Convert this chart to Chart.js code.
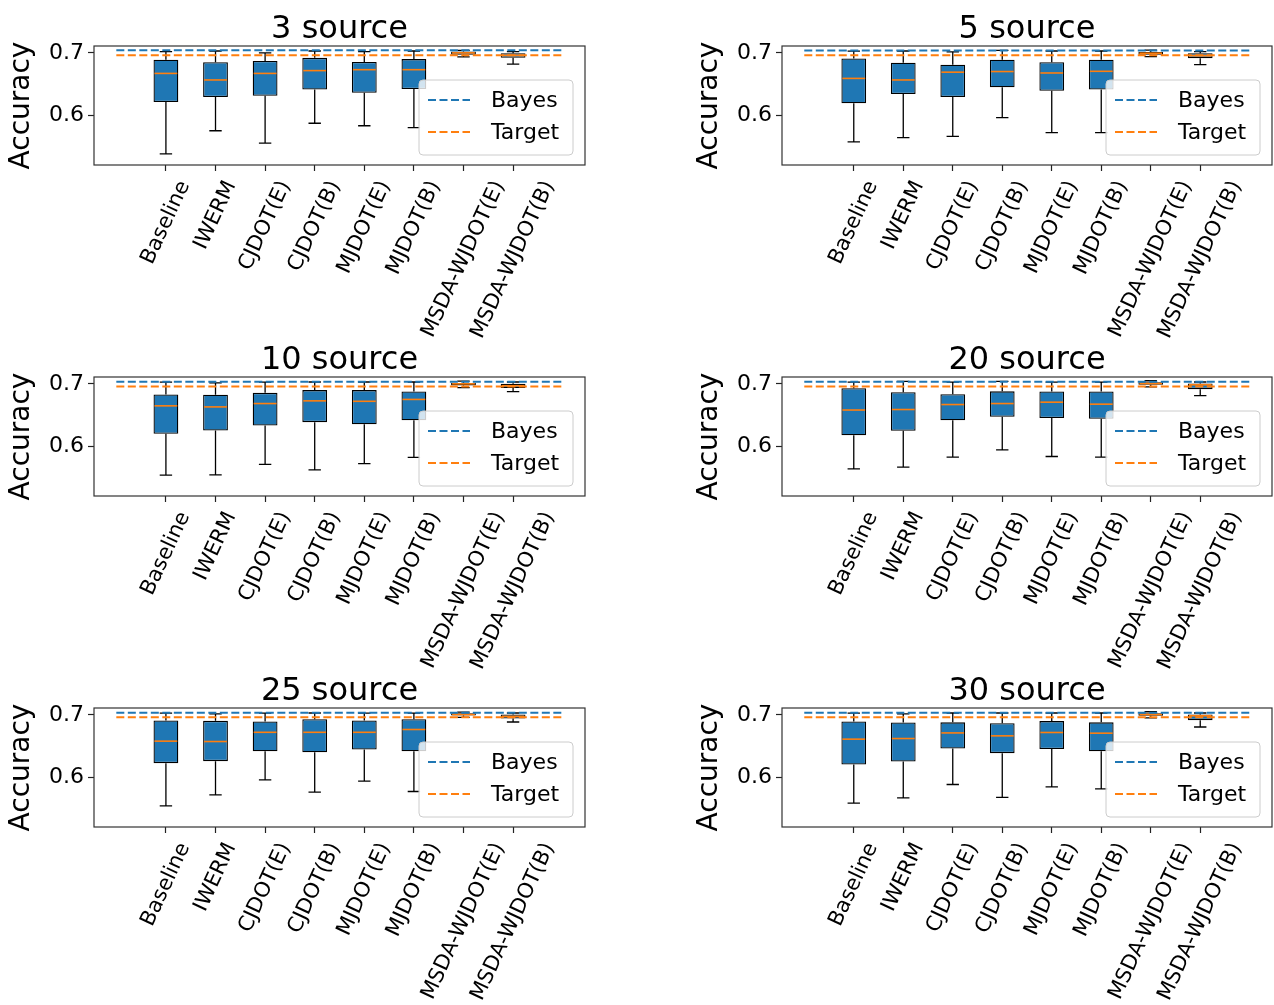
<!DOCTYPE html>
<html>
<head>
<meta charset="utf-8">
<script src="https://cdn.jsdelivr.net/npm/chart.js@4.4.1/dist/chart.umd.min.js"></script>
<style>
  html, body { margin: 0; padding: 0; background: #fff; width: 1274px; height: 1005px; overflow: hidden; position: relative; }
  canvas { position: absolute; }
</style>
</head>
<body>
<script>
// --- data ---
const methods = ['Baseline', 'IWERM', 'CJDOT(E)', 'CJDOT(B)', 'MJDOT(E)', 'MJDOT(B)', 'MSDA-WJDOT(E)', 'MSDA-WJDOT(B)'];
const sources = [3, 5, 10, 20, 25, 30];
const bayesAcc = [0.7040, 0.7038, 0.7034, 0.7034, 0.7033, 0.7033];
const targetAcc = [0.6960, 0.6960, 0.6958, 0.6958, 0.6962, 0.6962];
const yTicks = [0.6, 0.7];

// one row per panel, one value per method
const whiskerLow = [
  [0.538, 0.575, 0.555, 0.587, 0.583, 0.580, 0.6935, 0.682],
  [0.557, 0.564, 0.566, 0.596, 0.572, 0.572, 0.694, 0.681],
  [0.5535, 0.554, 0.5706, 0.562, 0.572, 0.582, 0.694, 0.6875],
  [0.5636, 0.5663, 0.5824, 0.594, 0.5834, 0.5824, 0.695, 0.681],
  [0.554, 0.5717, 0.5957, 0.576, 0.5936, 0.577, 0.696, 0.6885],
  [0.5583, 0.5668, 0.5882, 0.5674, 0.5845, 0.5813, 0.695, 0.6805]
];
const quart1 = [
  [0.621, 0.629, 0.631, 0.641, 0.636, 0.642, 0.697, 0.692],
  [0.619, 0.634, 0.629, 0.6446, 0.639, 0.641, 0.697, 0.6915],
  [0.620, 0.625, 0.633, 0.6385, 0.635, 0.6417, 0.6975, 0.6935],
  [0.6176, 0.6246, 0.6417, 0.647, 0.645, 0.6438, 0.6985, 0.6915],
  [0.6225, 0.6257, 0.6417, 0.640, 0.6444, 0.6417, 0.699, 0.694],
  [0.6203, 0.625, 0.646, 0.6385, 0.645, 0.6417, 0.6985, 0.6915]
];
const medians = [
  [0.667, 0.6565, 0.667, 0.6715, 0.673, 0.673, 0.700, 0.696],
  [0.659, 0.6565, 0.669, 0.670, 0.6677, 0.6704, 0.6995, 0.6955],
  [0.6647, 0.663, 0.6684, 0.6727, 0.672, 0.675, 0.700, 0.697],
  [0.658, 0.6588, 0.6668, 0.6684, 0.6706, 0.6674, 0.7005, 0.6985],
  [0.6578, 0.6572, 0.672, 0.672, 0.672, 0.6765, 0.7005, 0.6975],
  [0.661, 0.662, 0.671, 0.6663, 0.6717, 0.6706, 0.7005, 0.6985]
];
const quart3 = [
  [0.689, 0.685, 0.687, 0.692, 0.6855, 0.690, 0.702, 0.6995],
  [0.691, 0.684, 0.681, 0.689, 0.685, 0.689, 0.7015, 0.6995],
  [0.683, 0.6824, 0.6856, 0.690, 0.690, 0.6877, 0.7015, 0.700],
  [0.693, 0.6866, 0.6834, 0.688, 0.6877, 0.6877, 0.7025, 0.7005],
  [0.691, 0.6904, 0.6893, 0.693, 0.691, 0.693, 0.7025, 0.7005],
  [0.6893, 0.6877, 0.688, 0.6866, 0.690, 0.688, 0.7025, 0.7005]
];
const whiskerHigh = [
  [0.702, 0.703, 0.700, 0.703, 0.702, 0.703, 0.704, 0.702],
  [0.7027, 0.703, 0.7016, 0.704, 0.703, 0.703, 0.7045, 0.702],
  [0.7027, 0.7016, 0.7027, 0.703, 0.703, 0.703, 0.7045, 0.703],
  [0.7027, 0.704, 0.7027, 0.704, 0.7027, 0.7027, 0.705, 0.703],
  [0.7027, 0.7016, 0.7027, 0.703, 0.7027, 0.7027, 0.7045, 0.703],
  [0.7027, 0.7016, 0.703, 0.703, 0.703, 0.703, 0.705, 0.703]
];

const FONT = '"DejaVu Sans", "Liberation Sans", sans-serif';
const BLUE = '#1f77b4', ORANGE = '#ff7f0e';

// whiskers, caps, medians, spines, rotated x labels and the legend box
const boxParts = {
  id: 'boxParts',
  beforeDatasetsDraw(chart) {
    const { ctx, scales: { x, y } } = chart;
    ctx.save();
    ctx.strokeStyle = '#000';
    ctx.lineWidth = 1.3;
    chart.data.datasets[0].data.forEach(d => {
      const px = x.getPixelForValue(d.x);
      const c0 = x.getPixelForValue(d.x - 0.125), c1 = x.getPixelForValue(d.x + 0.125);
      ctx.beginPath();
      ctx.moveTo(px, y.getPixelForValue(d.y[1])); ctx.lineTo(px, y.getPixelForValue(d.hi));
      ctx.moveTo(px, y.getPixelForValue(d.y[0])); ctx.lineTo(px, y.getPixelForValue(d.lo));
      ctx.moveTo(c0, y.getPixelForValue(d.hi)); ctx.lineTo(c1, y.getPixelForValue(d.hi));
      ctx.moveTo(c0, y.getPixelForValue(d.lo)); ctx.lineTo(c1, y.getPixelForValue(d.lo));
      ctx.stroke();
    });
    ctx.restore();
  },
  afterDatasetDraw(chart, args) {
    if (args.index !== 0) return;
    const { ctx, scales: { x, y } } = chart;
    ctx.save();
    ctx.strokeStyle = ORANGE;
    ctx.lineWidth = 1.6;
    chart.data.datasets[0].data.forEach(d => {
      const py = y.getPixelForValue(d.med);
      ctx.beginPath();
      ctx.moveTo(x.getPixelForValue(d.x - 0.25) + 1, py);
      ctx.lineTo(x.getPixelForValue(d.x + 0.25) - 1, py);
      ctx.stroke();
    });
    ctx.restore();
  },
  afterDatasetsDraw(chart) {
    const { ctx, chartArea: ca } = chart;
    ctx.save();
    ctx.strokeStyle = '#333';
    ctx.lineWidth = 1.2;
    ctx.strokeRect(ca.left, ca.top, ca.right - ca.left, ca.bottom - ca.top);
    ctx.restore();
  },
  afterDraw(chart) {
    const { ctx, chartArea: ca, scales: { x } } = chart;
    // x tick labels, rotated 65 deg, bounding box centred under the tick
    const size = 21, th = 65 * Math.PI / 180;
    ctx.save();
    ctx.font = size + 'px ' + FONT;
    ctx.fillStyle = '#000';
    ctx.textAlign = 'center';
    ctx.textBaseline = 'middle';
    methods.forEach((m, i) => {
      const w = ctx.measureText(m).width, h = size * 1.17;
      const H = w * Math.sin(th) + h * Math.cos(th);
      ctx.save();
      ctx.translate(x.getPixelForValue(i + 1), ca.bottom + 12 + H / 2);
      ctx.rotate(-th);
      ctx.fillText(m, 0, 0);
      ctx.restore();
    });
    ctx.restore();

    // legend
    const lw = 154, lh = 75;
    const lx = ca.right - 12 - lw, ly = ca.bottom - 10 - lh;
    ctx.save();
    ctx.beginPath();
    ctx.roundRect(lx, ly, lw, lh, 4);
    ctx.fillStyle = 'rgba(255,255,255,0.8)';
    ctx.fill();
    ctx.strokeStyle = '#cccccc';
    ctx.lineWidth = 1;
    ctx.stroke();
    ctx.font = '22px ' + FONT;
    ctx.textAlign = 'left';
    ctx.textBaseline = 'middle';
    chart.data.datasets.slice(1).forEach((ds, k) => {
      const ry = ly + 20 + k * 32;
      ctx.beginPath();
      ctx.setLineDash(ds.borderDash);
      ctx.strokeStyle = ds.borderColor;
      ctx.lineWidth = ds.borderWidth;
      ctx.moveTo(lx + 9, ry); ctx.lineTo(lx + 51, ry);
      ctx.stroke();
      ctx.setLineDash([]);
      ctx.fillStyle = '#000';
      ctx.fillText(ds.label, lx + 72, ry + 1);
    });
    ctx.restore();
  }
};

sources.forEach((n, p) => {
  const col = p % 2, row = Math.floor(p / 2);
  const cv = document.createElement('canvas');
  cv.width = col ? 586 : 600;
  cv.height = 345;
  cv.style.left = (col ? 688 : 0) + 'px';
  cv.style.top = (row * 331) + 'px';
  document.body.appendChild(cv);

  const boxes = methods.map((m, i) => ({
    x: i + 1,
    y: [quart1[p][i], quart3[p][i]],
    lo: whiskerLow[p][i],
    med: medians[p][i],
    hi: whiskerHigh[p][i]
  }));

  new Chart(cv, {
    type: 'bar',
    data: {
      datasets: [
        {
          type: 'bar',
          label: 'box',
          data: boxes,
          backgroundColor: BLUE,
          borderColor: '#000',
          borderWidth: 1.3,
          borderSkipped: false,
          categoryPercentage: 1,
          barPercentage: 0.5,
          order: 3
        },
        {
          type: 'line',
          label: 'Bayes',
          data: [{ x: 0, y: bayesAcc[p] }, { x: 9, y: bayesAcc[p] }],
          borderColor: BLUE,
          borderDash: [8, 3.5],
          borderWidth: 2,
          pointRadius: 0,
          order: 2
        },
        {
          type: 'line',
          label: 'Target',
          data: [{ x: 0, y: targetAcc[p] }, { x: 9, y: targetAcc[p] }],
          borderColor: ORANGE,
          borderDash: [8, 3.5],
          borderWidth: 2,
          pointRadius: 0,
          order: 1
        }
      ]
    },
    options: {
      responsive: false,
      animation: false,
      devicePixelRatio: 1,
      layout: { padding: { left: 0, right: col ? 2 : 15, top: 0, bottom: 0 } },
      scales: {
        x: {
          type: 'linear',
          min: -0.45,
          max: 9.45,
          offset: false,
          afterBuildTicks: s => { s.ticks = methods.map((m, i) => ({ value: i + 1 })); },
          afterFit: s => { s.height = 180; },
          ticks: { display: false },
          grid: { drawOnChartArea: false, tickLength: 6, tickWidth: 1.2, tickColor: '#222', offset: false },
          border: { display: false }
        },
        y: {
          min: 0.52,
          max: 0.711,
          afterBuildTicks: s => { s.ticks = yTicks.map(v => ({ value: v })); },
          afterFit: s => { s.width = 94; },
          ticks: {
            font: { family: FONT, size: 22 },
            color: '#000',
            padding: 4,
            callback: v => v.toFixed(1)
          },
          grid: { drawOnChartArea: false, tickLength: 6, tickWidth: 1.2, tickColor: '#222' },
          border: { display: false },
          title: {
            display: true,
            text: 'Accuracy',
            color: '#000',
            font: { family: FONT, size: 28 },
            padding: { top: 5, bottom: 0 }
          }
        }
      },
      plugins: {
        legend: { display: false },
        tooltip: { enabled: false },
        title: {
          display: true,
          text: n + ' source',
          fullSize: false,
          color: '#000',
          font: { family: FONT, size: 32, weight: 'normal', lineHeight: 1 },
          padding: { top: 14, bottom: 0 }
        }
      }
    },
    plugins: [boxParts]
  });
});
</script>
</body>
</html>
